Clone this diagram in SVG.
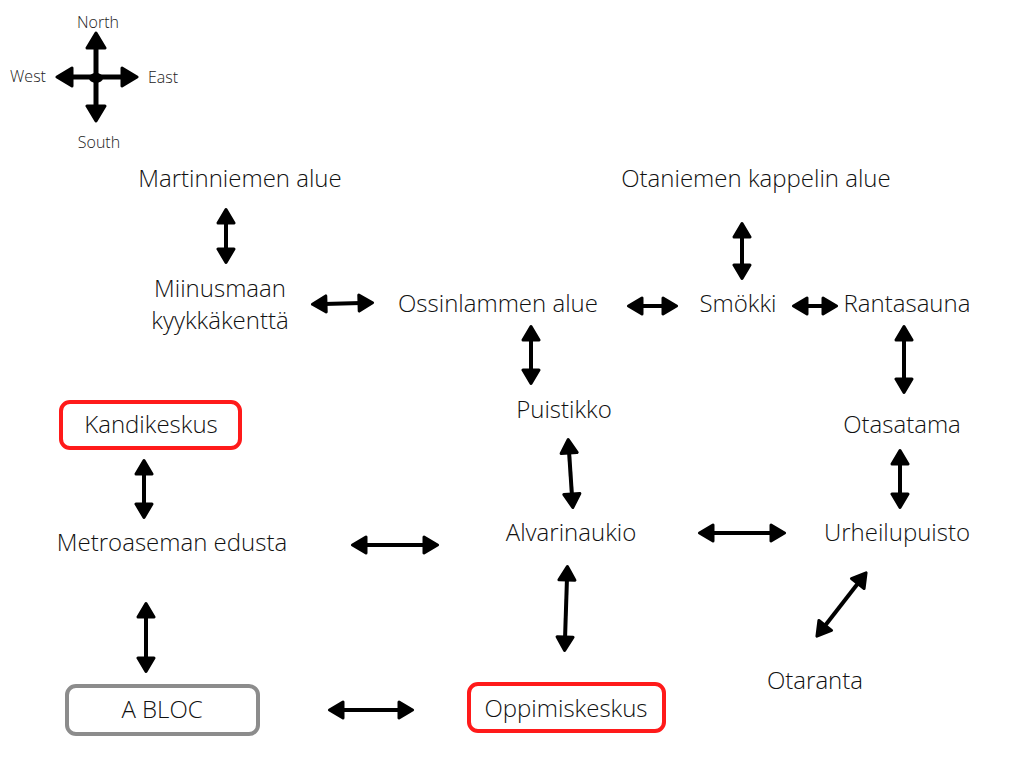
<svg xmlns="http://www.w3.org/2000/svg" width="1024" height="768" viewBox="0 0 1024 768">
<defs>
<marker id="ah" viewBox="0 0 18 20" refX="4" refY="10" markerWidth="18" markerHeight="20" markerUnits="userSpaceOnUse" orient="auto-start-reverse">
<path d="M2,2 L15.5,10 L2,18 Z" fill="#000" stroke="#000" stroke-width="3" stroke-linejoin="round"/>
</marker>
<marker id="ahc" viewBox="0 0 20 22" refX="4" refY="11" markerWidth="20" markerHeight="22" markerUnits="userSpaceOnUse" orient="auto-start-reverse">
<path d="M2,2 L17,11 L2,20 Z" fill="#000" stroke="#000" stroke-width="3" stroke-linejoin="round"/>
</marker>
</defs>
<style>
.t{font-family:"Open Sans","Liberation Sans",sans-serif;font-weight:300;font-size:24px;fill:#111;text-anchor:middle}
.c{font-family:"Open Sans","Liberation Sans",sans-serif;font-weight:300;font-size:16px;fill:#222;text-anchor:middle}
.a{stroke:#000;stroke-width:4;fill:none;marker-start:url(#ah);marker-end:url(#ah)}
.ac{stroke:#000;stroke-width:5;fill:none;marker-start:url(#ahc);marker-end:url(#ahc)}
.red{fill:#fff;stroke:#ff1a1a;stroke-width:4}
.grey{fill:#fff;stroke:#8c8c8c;stroke-width:4}
</style>
<rect width="1024" height="768" fill="#fff"/>
<g id="compass">
<line class="ac" x1="96" y1="46" x2="96" y2="108"/>
<line class="ac" x1="70" y1="77" x2="124" y2="77"/>
<ellipse cx="96" cy="78" rx="7" ry="5" fill="#000"/>
<text class="c" x="98" y="28">North</text>
<text class="c" x="28" y="82">West</text>
<text class="c" x="163" y="83">East</text>
<text class="c" x="99" y="148">South</text>
</g>
<g id="connectors">
<line class="a" x1="226" y1="221" x2="226" y2="251"/>
<line class="a" x1="324" y1="304" x2="361" y2="303"/>
<line class="a" x1="640" y1="306" x2="665" y2="306"/>
<line class="a" x1="742" y1="235" x2="742" y2="267"/>
<line class="a" x1="805" y1="306" x2="825" y2="306"/>
<line class="a" x1="531" y1="338" x2="531" y2="372"/>
<line class="a" x1="904" y1="338" x2="904" y2="381"/>
<line class="a" x1="569" y1="451" x2="572" y2="496"/>
<line class="a" x1="900" y1="462" x2="900" y2="496"/>
<line class="a" x1="144" y1="472" x2="144" y2="506"/>
<line class="a" x1="364" y1="545" x2="426" y2="545"/>
<line class="a" x1="711" y1="533" x2="773" y2="533"/>
<line class="a" x1="567" y1="578" x2="565" y2="639"/>
<line class="a" x1="859" y1="582" x2="824" y2="627"/>
<line class="a" x1="146" y1="615" x2="146" y2="660"/>
<line class="a" x1="341" y1="710" x2="401" y2="710"/>
</g>
<g id="martinniemen"><text class="t" x="240" y="187">Martinniemen alue</text></g>
<g id="otaniemen"><text class="t" x="756" y="187">Otaniemen kappelin alue</text></g>
<g id="miinusmaan"><text class="t" x="220" y="297">Miinusmaan</text><text class="t" x="220" y="329">kyykkäkenttä</text></g>
<g id="ossinlammen"><text class="t" x="498" y="312">Ossinlammen alue</text></g>
<g id="smokki"><text class="t" x="738" y="312">Smökki</text></g>
<g id="rantasauna"><text class="t" x="907" y="312">Rantasauna</text></g>
<g id="puistikko"><text class="t" x="564" y="418">Puistikko</text></g>
<g id="kandikeskus"><rect class="red" x="61" y="402" width="179" height="46" rx="9"/><text class="t" x="151" y="433">Kandikeskus</text></g>
<g id="otasatama"><text class="t" x="902" y="433">Otasatama</text></g>
<g id="metroaseman"><text class="t" x="172" y="551">Metroaseman edusta</text></g>
<g id="alvarinaukio"><text class="t" x="571" y="541">Alvarinaukio</text></g>
<g id="urheilupuisto"><text class="t" x="897" y="541">Urheilupuisto</text></g>
<g id="otaranta"><text class="t" x="815" y="689">Otaranta</text></g>
<g id="abloc"><rect class="grey" x="67" y="686" width="191" height="48" rx="9"/><text class="t" x="162" y="718">A BLOC</text></g>
<g id="oppimiskeskus"><rect class="red" x="469" y="684" width="195" height="47" rx="9"/><text class="t" x="566" y="717">Oppimiskeskus</text></g>
</svg>
